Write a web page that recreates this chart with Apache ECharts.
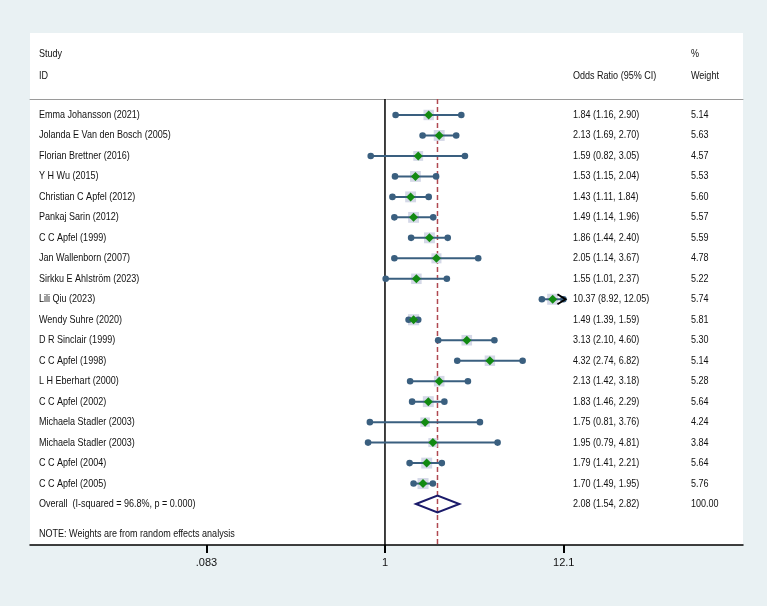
<!DOCTYPE html>
<html>
<head>
<meta charset="utf-8">
<script src="https://cdn.jsdelivr.net/npm/echarts@6/dist/echarts.min.js"></script>
<style>
  html, body { margin: 0; padding: 0; background: #e9f1f3; }
  #chart { width: 767px; height: 606px; }
</style>
</head>
<body>
<div id="chart"></div>
<script>
// study rows, top to bottom
const studies = [
  'Emma Johansson (2021)',
  'Jolanda E Van den Bosch (2005)',
  'Florian Brettner (2016)',
  'Y H Wu (2015)',
  'Christian C Apfel (2012)',
  'Pankaj Sarin (2012)',
  'C C Apfel (1999)',
  'Jan Wallenborn (2007)',
  'Sirkku E Ahlström (2023)',
  'Lili Qiu (2023)',
  'Wendy Suhre (2020)',
  'D R Sinclair (1999)',
  'C C Apfel (1998)',
  'L H Eberhart (2000)',
  'C C Apfel (2002)',
  'Michaela Stadler (2003)',
  'Michaela Stadler (2003)',
  'C C Apfel (2004)',
  'C C Apfel (2005)'
];
const oddsRatios = [1.84, 2.13, 1.59, 1.53, 1.43, 1.49, 1.86, 2.05, 1.55, 10.37, 1.49, 3.13, 4.32, 2.13, 1.83, 1.75, 1.95, 1.79, 1.70];
const ciLower = [1.16, 1.69, 0.82, 1.15, 1.11, 1.14, 1.44, 1.14, 1.01, 8.92, 1.39, 2.10, 2.74, 1.42, 1.46, 0.81, 0.79, 1.41, 1.49];
const ciUpper = [2.90, 2.70, 3.05, 2.04, 1.84, 1.96, 2.40, 3.67, 2.37, 12.05, 1.59, 4.60, 6.82, 3.18, 2.29, 3.76, 4.81, 2.21, 1.95];
const weights = [5.14, 5.63, 4.57, 5.53, 5.60, 5.57, 5.59, 4.78, 5.22, 5.74, 5.81, 5.30, 5.14, 5.28, 5.64, 4.24, 3.84, 5.64, 5.76];

const overallLabel = 'Overall  (I-squared = 96.8%, p = 0.000)';
const overallOR = 2.08;
const overallLower = 1.54;
const overallUpper = 2.82;
const overallWeight = 100.00;

const tickValues = [0.083, 1, 12.1];
const tickLabels = ['.083', '1', '12.1'];
const plotMax = 12.05; // CIs reaching this get an arrow

const headerTexts = [
  { text: 'Study', x: 39, y: 54 },
  { text: 'ID', x: 39, y: 76 },
  { text: 'Odds Ratio (95% CI)', x: 573, y: 76 },
  { text: '%', x: 691, y: 54 },
  { text: 'Weight', x: 691, y: 76 }
];
const noteText = 'NOTE: Weights are from random effects analysis';

const ciColor = '#3a5f7f';
const textColor = '#111111';
const fontFamily = '"Liberation Sans", Arial, sans-serif';
const fontSize = 11;
const squeeze = 0.82;
const colName = 39, colOR = 573, colWeight = 691;
const yMin = -0.78, yMax = 21;

function fmt(v) { return v.toFixed(2); }

function label(text, x, y) {
  return {
    type: 'text',
    x: x,
    y: y,
    scaleX: squeeze,
    style: { text: text, x: 0, y: 0, fill: textColor, fontSize: fontSize, fontFamily: fontFamily, align: 'left', verticalAlign: 'middle' }
  };
}

function renderStudy(params, api) {
  const i = api.value(0);
  const or = api.value(1), lo = api.value(2), hi = api.value(3), w = api.value(4);
  const pOr = api.coord([or, i]);
  const xOr = pOr[0], y = pOr[1];
  const xLo = api.coord([lo, i])[0];
  const xHi = api.coord([hi, i])[0];
  const side = 4.6 * Math.sqrt(w);
  const d = 4.5;
  const children = [
    { type: 'rect', shape: { x: xOr - side / 2, y: y - side / 2, width: side, height: side }, style: { fill: '#d4d8e7' } },
    { type: 'line', shape: { x1: xLo, y1: y, x2: xHi, y2: y }, style: { stroke: ciColor, lineWidth: 2 } },
    { type: 'circle', shape: { cx: xLo, cy: y, r: 3.3 }, style: { fill: ciColor } },
    { type: 'circle', shape: { cx: xHi, cy: y, r: 3.3 }, style: { fill: ciColor } },
    { type: 'polygon', shape: { points: [[xOr - d, y], [xOr, y - d], [xOr + d, y], [xOr, y + d]] }, style: { fill: '#128a12' } }
  ];
  if (hi >= plotMax) {
    children.push({
      type: 'polyline',
      shape: { points: [[xHi - 6, y - 5], [xHi + 2, y], [xHi - 6, y + 5]] },
      style: { stroke: '#000', lineWidth: 2, fill: null }
    });
  }
  children.push(label(studies[i], colName, y));
  children.push(label(fmt(or) + ' (' + fmt(lo) + ', ' + fmt(hi) + ')', colOR, y));
  children.push(label(fmt(w), colWeight, y));
  return { type: 'group', children: children };
}

function renderOverall(params, api) {
  const i = api.value(0);
  const or = api.value(1), lo = api.value(2), hi = api.value(3), w = api.value(4);
  const pOr = api.coord([or, i]);
  const xOr = pOr[0], y = pOr[1];
  const xLo = api.coord([lo, i])[0];
  const xHi = api.coord([hi, i])[0];
  const h = 8.5;
  return {
    type: 'group',
    children: [
      { type: 'polygon', shape: { points: [[xLo, y], [xOr, y - h], [xHi, y], [xOr, y + h]] }, style: { stroke: '#1b1b6a', lineWidth: 2, fill: null } },
      label(overallLabel, colName, y),
      label(fmt(or) + ' (' + fmt(lo) + ', ' + fmt(hi) + ')', colOR, y),
      label(fmt(w), colWeight, y)
    ]
  };
}

const chart = echarts.init(document.getElementById('chart'));

const studyData = studies.map((s, i) => [i, oddsRatios[i], ciLower[i], ciUpper[i], weights[i]]);
const overallRow = studies.length;

function headerText(t) {
  return { type: 'text', x: t.x, y: t.y, scaleX: squeeze, style: { text: t.text, fill: textColor, fontSize: fontSize, fontFamily: fontFamily, verticalAlign: 'middle' } };
}

chart.setOption({
  backgroundColor: '#e9f1f3',
  animation: false,
  graphic: [
    { type: 'rect', z: -10, shape: { x: 30, y: 33, width: 713, height: 512 }, style: { fill: '#ffffff' } },
    ...headerTexts.map(headerText),
    headerText({ text: noteText, x: colName, y: 534 })
  ],
  grid: { left: 30, right: 24, top: 99, bottom: 61 },
  xAxis: [
    {
      type: 'log',
      min: 0.00708,
      max: 147.4,
      position: 'bottom',
      splitLine: { show: false },
      axisLine: { onZero: false, lineStyle: { color: '#000', width: 1.5 } },
      axisTick: { customValues: tickValues, length: 8, lineStyle: { color: '#000', width: 2 } },
      axisLabel: {
        customValues: tickValues,
        margin: 12,
        color: textColor,
        fontSize: fontSize,
        fontFamily: fontFamily,
        formatter: v => tickLabels[tickValues.findIndex(t => Math.abs(t - v) < 1e-6)] || ''
      }
    },
    {
      type: 'value',
      position: 'top',
      min: 0,
      max: 1,
      axisLine: { onZero: false, lineStyle: { color: '#9a9a9a', width: 1 } },
      axisTick: { show: false },
      axisLabel: { show: false },
      splitLine: { show: false }
    }
  ],
  yAxis: { type: 'value', inverse: true, min: yMin, max: yMax, show: false },
  series: [
    {
      type: 'line',
      data: [[1, yMin], [1, yMax]],
      symbol: 'none',
      lineStyle: { color: '#000', width: 1.5 },
      z: 1
    },
    {
      type: 'line',
      data: [[overallOR, yMin], [overallOR, yMax]],
      symbol: 'none',
      lineStyle: { color: '#b04850', width: 1.5, type: [5, 3] },
      z: 1
    },
    {
      type: 'custom',
      renderItem: renderStudy,
      data: studyData,
      encode: { x: [1, 2, 3], y: 0 },
      z: 3
    },
    {
      type: 'custom',
      renderItem: renderOverall,
      data: [[overallRow, overallOR, overallLower, overallUpper, overallWeight]],
      encode: { x: [1, 2, 3], y: 0 },
      z: 3
    }
  ]
});
</script>
</body>
</html>
